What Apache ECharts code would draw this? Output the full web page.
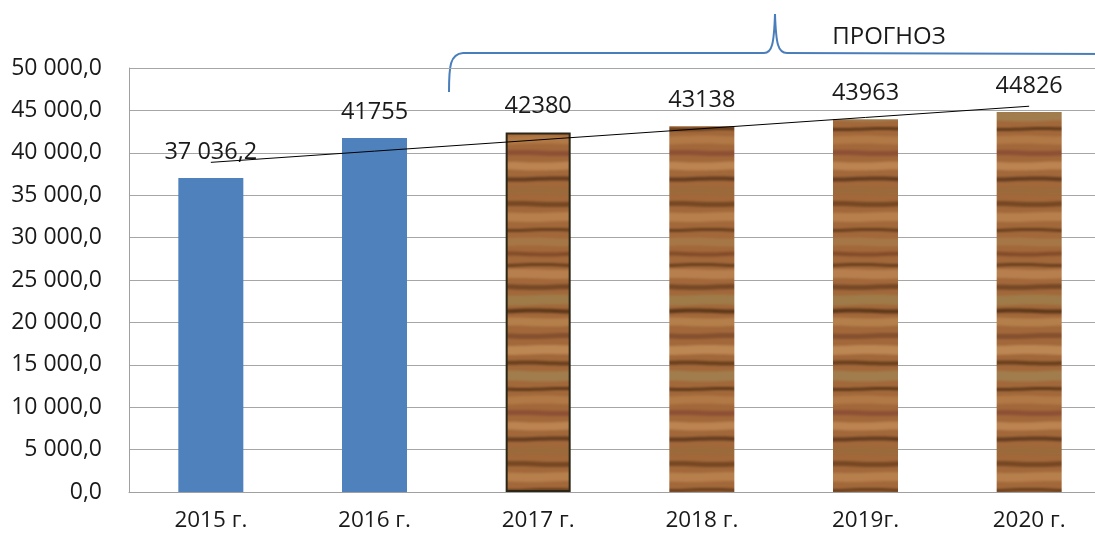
<!DOCTYPE html>
<html>
<head>
<meta charset="utf-8">
<script src="https://cdn.jsdelivr.net/npm/echarts@6/dist/echarts.min.js"></script>
<style>html,body{margin:0;padding:0;background:#fff;overflow:hidden;width:1095px;height:537px;}#c{width:1111px;height:537px;}</style>
</head>
<body>
<div id="c"></div>
<script>
const categories = ['2015 г.', '2016 г.', '2017 г.', '2018 г.', '2019г.', '2020 г.'];
const values = [37036.2, 41755, 42380, 43138, 43963, 44826];
const valueLabels = ['37 036,2', '41755', '42380', '43138', '43963', '44826'];
const forecast = [false, false, true, true, true, true];
const yTicks = { min: 0, max: 50000, interval: 5000 };
const forecastTitle = 'ПРОГНОЗ';

// wood texture (style only)
function woodCanvas() {
  const c = document.createElement('canvas');
  c.width = 80; c.height = 260;
  const g = c.getContext('2d');
  g.fillStyle = '#a2683a';
  g.fillRect(0, 0, c.width, c.height);
  const bands = [
    [5, 3, '#5b3518'], [14, 9, '#bd8552'], [27, 5, '#6b4020'], [40, 10, '#9e7f4c'],
    [51, 4, '#4a2a10'], [62, 8, '#b9844f'], [76, 5, '#7d4a2c'], [90, 9, '#c38e5a'],
    [103, 4, '#5a3416'], [116, 10, '#a18252'], [129, 3, '#4d2d12'], [140, 8, '#b57d48'],
    [153, 5, '#8a4a34'], [166, 8, '#c28b57'], [179, 4, '#55321a'], [191, 7, '#9a6a3c'],
    [204, 5, '#6a3e1d'], [217, 9, '#bb8550'], [230, 3, '#5a3416'], [242, 8, '#a77a4a'],
    [254, 4, '#7a4524']
  ];
  g.filter = 'blur(1.2px)';
  bands.forEach(function (b, i) {
    g.strokeStyle = b[2];
    g.lineWidth = b[1];
    g.globalAlpha = 0.8;
    g.beginPath();
    for (let x = -10; x <= c.width + 10; x += 5) {
      const y = b[0] + Math.sin((x / c.width) * Math.PI * 2 + i * 1.7) * 0.6;
      if (x === -10) g.moveTo(x, y); else g.lineTo(x, y);
    }
    g.stroke();
  });
  g.filter = 'none';
  g.globalAlpha = 1;
  return c;
}
const wood = { image: woodCanvas(), repeat: 'repeat' };

// linear trend from the data
function trend(arr) {
  const n = arr.length;
  let sx = 0, sy = 0, sxy = 0, sxx = 0;
  arr.forEach(function (v, i) { sx += i; sy += v; sxy += i * v; sxx += i * i; });
  const k = (n * sxy - sx * sy) / (n * sxx - sx * sx);
  const b = (sy - k * sx) / n;
  return arr.map(function (v, i) { return b + k * i; });
}

function fmtY(v) {
  const s = Math.round(v).toString().replace(/\B(?=(\d{3})+(?!\d))/g, ' ');
  return s + ',0';
}

const FONT = '"Open Sans", "Noto Sans", sans-serif';
const braceStyle = { fill: 'none', stroke: '#4a7ebb', lineWidth: 2 };
const chart = echarts.init(document.getElementById('c'));
chart.setOption({
  animation: false,
  grid: { left: 129, width: 982, top: 68, height: 424, containLabel: false },
  xAxis: {
    type: 'category',
    data: categories,
    axisTick: { show: false },
    axisLine: { lineStyle: { color: '#a0a0a0', width: 1 } },
    axisLabel: { color: '#1a1a1a', fontSize: 22.5, fontFamily: FONT, margin: 17 }
  },
  yAxis: {
    type: 'value',
    min: yTicks.min, max: yTicks.max, interval: yTicks.interval,
    axisLine: { show: true, lineStyle: { color: '#a0a0a0', width: 1 } },
    axisTick: { show: false },
    splitLine: { lineStyle: { color: '#a6a6a6', width: 1 } },
    axisLabel: { color: '#1a1a1a', fontSize: 23, fontFamily: FONT, margin: 27, formatter: fmtY }
  },
  series: [
    {
      type: 'bar',
      barWidth: 65,
      data: values.map(function (v, i) {
        const item = { value: v, itemStyle: { color: forecast[i] ? wood : '#4f81bd' } };
        if (i === 2) { item.itemStyle.borderColor = '#2b2616'; item.itemStyle.borderWidth = 2; }
        return item;
      }),
      label: {
        show: true, position: 'top', distance: 14,
        color: '#1a1a1a', fontSize: 23.5, fontFamily: FONT,
        formatter: function (p) { return valueLabels[p.dataIndex]; }
      },
      z: 2
    },
    {
      type: 'line',
      data: trend(values),
      symbol: 'none',
      lineStyle: { color: '#000', width: 1 },
      z: 5,
      silent: true
    }
  ],
  graphic: [
    { type: 'bezierCurve', shape: { x1: 449, y1: 92, x2: 463, y2: 53, cpx1: 449, cpy1: 66, cpx2: 450, cpy2: 54 }, style: braceStyle },
    { type: 'line', shape: { x1: 463, y1: 53, x2: 764, y2: 53 }, style: braceStyle },
    { type: 'bezierCurve', shape: { x1: 764, y1: 53, x2: 775, y2: 14, cpx1: 772, cpy1: 53, cpx2: 774, cpy2: 44 }, style: braceStyle },
    { type: 'bezierCurve', shape: { x1: 775, y1: 14, x2: 787, y2: 53, cpx1: 776, cpy1: 44, cpx2: 778, cpy2: 53 }, style: braceStyle },
    { type: 'line', shape: { x1: 787, y1: 53, x2: 1111, y2: 54 }, style: braceStyle },
    {
      type: 'text',
      x: 889, y: 37,
      style: { text: forecastTitle, fill: '#1a1a1a', font: '24px ' + FONT, align: 'center', verticalAlign: 'middle' }
    }
  ]
});
</script>
</body>
</html>
